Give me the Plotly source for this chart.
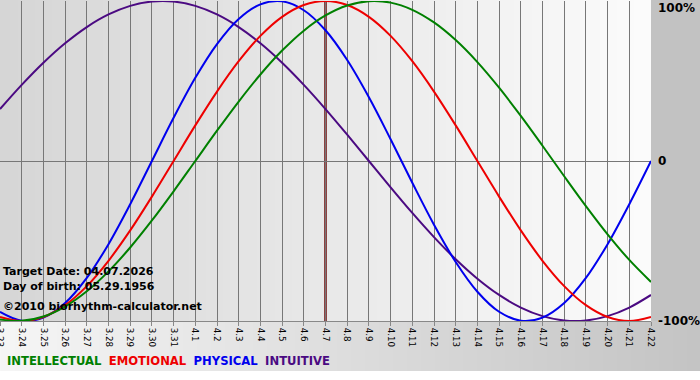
import zlib, struct, base64
import plotly.graph_objects as go

# ---------------- data ----------------
dates = ["3.23", "3.24", "3.25", "3.26", "3.27", "3.28", "3.29", "3.30", "3.31",
         "4.1", "4.2", "4.3", "4.4", "4.5", "4.6", "4.7", "4.8", "4.9", "4.10",
         "4.11", "4.12", "4.13", "4.14", "4.15", "4.16", "4.17", "4.18", "4.19",
         "4.20", "4.21", "4.22"]

physical = [-0.9423, -0.9977, -0.9791, -0.8879, -0.7308, -0.5196, -0.2698, 0.0,
            0.2698, 0.5196, 0.7308, 0.8879, 0.9791, 0.9977, 0.9423, 0.8170,
            0.6311, 0.3984, 0.1362, -0.1362, -0.3984, -0.6311, -0.8170, -0.9423,
            -0.9977, -0.9791, -0.8879, -0.7308, -0.5196, -0.2698, 0.0]

emotional = [-0.9749, -1.0, -0.9749, -0.9010, -0.7818, -0.6235, -0.4339, -0.2225,
             0.0, 0.2225, 0.4339, 0.6235, 0.7818, 0.9010, 0.9749, 1.0,
             0.9749, 0.9010, 0.7818, 0.6235, 0.4339, 0.2225, 0.0, -0.2225,
             -0.4339, -0.6235, -0.7818, -0.9010, -0.9749, -1.0, -0.9749]

intellectual = [-0.9898, -0.9989, -0.9718, -0.9096, -0.8146, -0.6901, -0.5406, -0.3717,
                -0.1893, 0.0, 0.1893, 0.3717, 0.5406, 0.6901, 0.8146, 0.9096,
                0.9718, 0.9989, 0.9898, 0.9450, 0.8660, 0.7557, 0.6182, 0.4582,
                0.2817, 0.0951, -0.0951, -0.2817, -0.4582, -0.6182, -0.7557]

intuitive = [0.3247, 0.4759, 0.6142, 0.7357, 0.8372, 0.9158, 0.9694, 0.9966,
             0.9966, 0.9694, 0.9158, 0.8372, 0.7357, 0.6142, 0.4759, 0.3247,
             0.1646, 0.0, -0.1646, -0.3247, -0.4759, -0.6142, -0.7357, -0.8372,
             -0.9158, -0.9694, -0.9966, -0.9966, -0.9694, -0.9158, -0.8372]

target_label = "4.7"
y_tick_vals = [1, 0, -1]
y_tick_text = ["100%", "0", "-100%"]
info_lines = ["Target Date: 04.07.2026", "Day of birth: 05.29.1956",
              "\u00a92010 biorhythm-calculator.net"]

# ---------------- background image (gradients) ----------------
W, H = 700, 380
PL, PR, PB = 0, 651, 321


def make_png(w, h, pix):
    raw = bytearray()
    for y in range(h):
        raw.append(0)
        raw.extend(pix(y))
    def chunk(t, d):
        c = struct.pack(">I", len(d)) + t + d
        return c + struct.pack(">I", zlib.crc32(t + d) & 0xffffffff)
    png = b"\x89PNG\r\n\x1a\n"
    png += chunk(b"IHDR", struct.pack(">IIBBBBB", w, h, 8, 0, 0, 0, 0))
    png += chunk(b"IDAT", zlib.compress(bytes(raw), 9))
    png += chunk(b"IEND", b"")
    return "data:image/png;base64," + base64.b64encode(png).decode()


row_plot = bytes([int(214 + (252 - 214) * x / PR) if x < PR else 194 for x in range(W)])
row_bottom = bytes([int(246 - (246 - 196) * x / W) for x in range(W)])
row_white = bytes([255] * W)


def pix(y):
    if y < PB:
        return row_plot
    if y < 371:
        return row_bottom
    return row_white


bg_src = make_png(W, H, pix)

# ---------------- figure ----------------
x = list(range(len(dates)))
fig = go.Figure()

series = [("INTELLECTUAL", intellectual, "#008000"),
          ("EMOTIONAL", emotional, "#ee0000"),
          ("PHYSICAL", physical, "#0000ee"),
          ("INTUITIVE", intuitive, "#4b0a82")]

for name, vals, col in series[::-1]:
    fig.add_trace(go.Scatter(x=x, y=vals, mode="lines", name=name,
                             line=dict(color=col, width=2, shape="spline", smoothing=1),
                             hoverinfo="skip", showlegend=False))

ti = dates.index(target_label)
fig.add_shape(type="line", xref="x", yref="paper", x0=ti, x1=ti, y0=0, y1=1,
              line=dict(color="#6e0a0a", width=2.5), layer="between")

fig.add_layout_image(dict(source=bg_src, xref="paper", yref="paper",
                          x=-PL / (PR - PL), y=1 + 1 / 320, sizex=W / (PR - PL),
                          sizey=H / 320, xanchor="left", yanchor="top",
                          sizing="stretch", layer="below"))

fontb = "DejaVu Sans"
anns = []
for v, t in zip(y_tick_vals, y_tick_text):
    anns.append(dict(x=1, xref="paper", y=v, yref="y", text="<b>%s</b>" % t,
                     showarrow=False, xanchor="left", xshift=5,
                     yanchor="top" if v == 1 else "middle",
                     yshift=2 if v == 1 else 0,
                     font=dict(family=fontb, size=12, color="#000000")))

info_y = [271, 286, 306]
for t, py in zip(info_lines, info_y):
    anns.append(dict(x=0, xref="paper", y=(321 - py) / 320, yref="paper",
                     text="<b>%s</b>" % t, showarrow=False, xanchor="left",
                     yanchor="middle", xshift=1,
                     font=dict(family=fontb, size=11, color="#000000")))

legend_html = "&nbsp;&nbsp;".join(
    '<span style="color:%s"><b>%s</b></span>' % (col, name) for name, _, col in series)
anns.append(dict(x=0, xref="paper", y=(321 - 361) / 320, yref="paper",
                 text=legend_html, showarrow=False, xanchor="left", yanchor="middle",
                 xshift=5, font=dict(family=fontb, size=11.6)))

fig.update_layout(
    width=W, height=H,
    margin=dict(l=PL, r=W - PR, t=1, b=H - PB),
    paper_bgcolor="rgba(0,0,0,0)",
    plot_bgcolor="rgba(0,0,0,0)",
    showlegend=False,
    annotations=anns,
    xaxis=dict(range=[0, len(dates) - 1], tickmode="array", tickvals=x, ticktext=dates,
               tickangle=90, showgrid=True, gridcolor="#777777", gridwidth=1,
               zeroline=False, showline=True, linecolor="#888888", linewidth=1,
               ticks="outside", ticklen=4, tickcolor="#888888",
               ticklabeloverflow="allow", automargin=False,
               tickfont=dict(family="DejaVu Sans", size=8.7, color="#000000"),
               fixedrange=True),
    yaxis=dict(range=[-1, 1], showgrid=False, zeroline=True, zerolinecolor="#777777",
               zerolinewidth=1, showticklabels=False, ticks="", fixedrange=True,
               automargin=False),
)

fig.write_html("out.html", config={"displayModeBar": False},
               post_script="document.body.style.margin='0px';"
                           "document.body.style.overflow='hidden';")
